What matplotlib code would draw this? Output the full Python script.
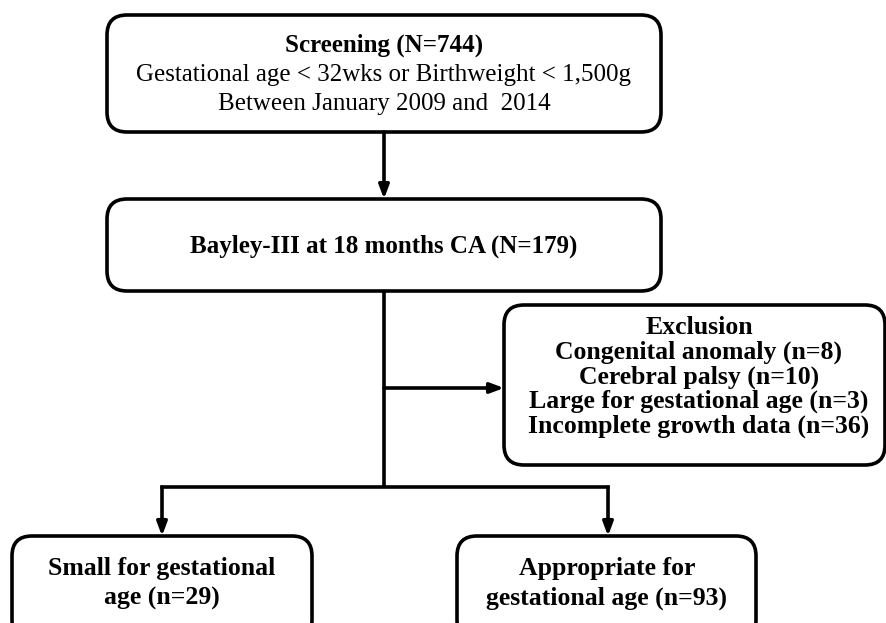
import matplotlib.pyplot as plt
from matplotlib.patches import FancyBboxPatch

# flowchart content
screen_title = 'Screening (N=744)'
screen_lines = ['Gestational age < 32wks or Birthweight < 1,500g',
                'Between January 2009 and  2014']
bayley_label = 'Bayley-III at 18 months CA (N=179)'
excl_title = 'Exclusion'
excl_reasons = ['Congenital anomaly', 'Cerebral palsy',
                'Large for gestational age', 'Incomplete growth data']
excl_counts = [8, 10, 3, 36]
group_labels = ['Small for gestational\nage', 'Appropriate for\ngestational age']
group_counts = [29, 93]

plt.rcParams['font.family'] = ['Liberation Serif', 'DejaVu Serif']

W, H = 887, 623
fig = plt.figure(figsize=(W / 100, H / 100), dpi=100)
ax = fig.add_axes([0, 0, 1, 1])
ax.set_xlim(0, W)
ax.set_ylim(H, 0)
ax.axis('off')

LW = 2.6


def rbox(x0, y0, x1, y1, r=20):
    p = FancyBboxPatch((x0 + r, y0 + r), x1 - x0 - 2 * r, y1 - y0 - 2 * r,
                       boxstyle=f'round,pad={r}', fc='white', ec='black',
                       lw=LW, zorder=2)
    ax.add_patch(p)


def arrow(x0, y0, x1, y1):
    ax.annotate('', xy=(x1, y1), xytext=(x0, y0),
                arrowprops=dict(arrowstyle='-|>,head_length=0.8,head_width=0.3',
                                lw=LW, color='black', shrinkA=0, shrinkB=0),
                zorder=3)


# boxes
rbox(107, 15, 661, 132)
rbox(107, 199, 661, 291)
rbox(504, 305, 885, 465)
rbox(12, 536, 312, 640)
rbox(457, 536, 756, 640)

# connectors
cx = 384
arrow(cx, 132, cx, 199)
ax.plot([cx, cx], [291, 487], color='black', lw=LW, solid_capstyle='butt', zorder=1)
arrow(cx, 388, 504, 388)
ax.plot([162, 608], [487, 487], color='black', lw=LW, solid_capstyle='projecting', zorder=1)
arrow(162, 487, 162, 536)
arrow(608, 487, 608, 536)

# texts
ax.text(cx, 45, screen_title, ha='center', va='center', fontsize=18, fontweight='bold')
for i, line in enumerate(screen_lines):
    ax.text(cx, 75 + i * 29, line, ha='center', va='center', fontsize=18)

ax.text(cx, 246, bayley_label, ha='center', va='center', fontsize=18, fontweight='bold')

excl_lines = [excl_title] + [f'{r} (n={c})' for r, c in zip(excl_reasons, excl_counts)]
for i, line in enumerate(excl_lines):
    ax.text(699, 328 + i * 24.5, line, ha='center', va='center', fontsize=18.5, fontweight='bold')

for xc, lab, n in zip([162, 607], group_labels, group_counts):
    l1, l2 = lab.split('\n')
    ax.text(xc, 568, l1, ha='center', va='center', fontsize=18.5, fontweight='bold')
    ax.text(xc, 598, f'{l2} (n={n})', ha='center', va='center', fontsize=18.5, fontweight='bold')

fig.savefig('out.png', dpi=100)
